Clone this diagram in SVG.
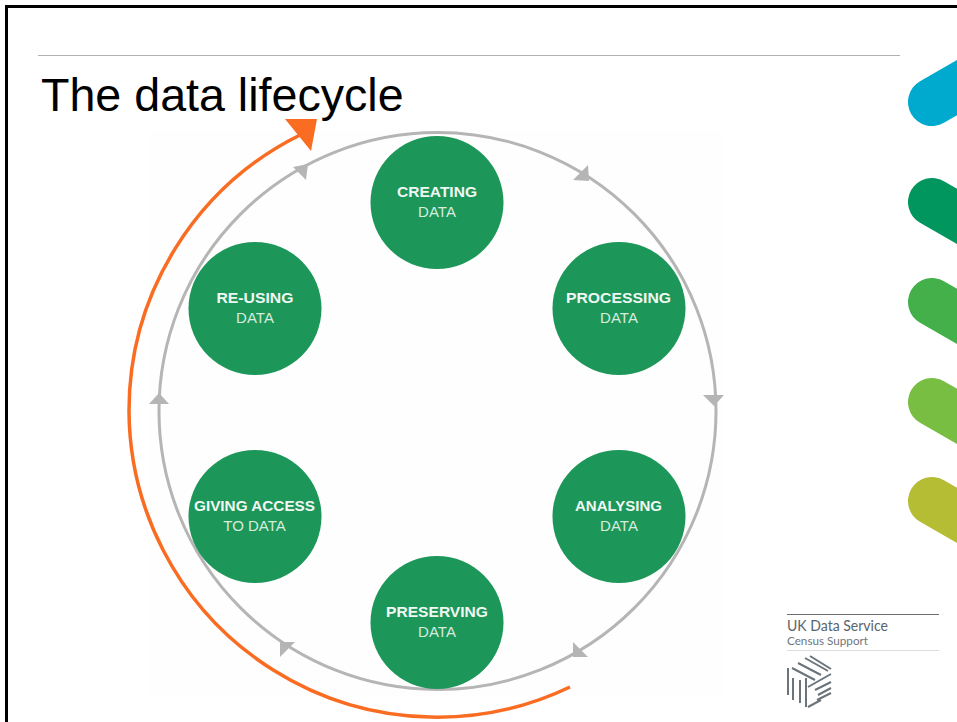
<svg xmlns="http://www.w3.org/2000/svg" width="957" height="722" viewBox="0 0 957 722">
<style>
.node{fill:#1d9659}
.t{font-family:"Liberation Sans",Arial,sans-serif;font-size:15.5px;text-anchor:middle}
.b{font-weight:bold;fill:#f0f8f3}
.l{fill:#d6ecdf;font-size:15px}
.h{fill:#b5b5b5}
.ls{fill:none;stroke-width:48;stroke-linecap:round}
.lg{fill:none;stroke:#6b747a;stroke-width:2}
</style>
<rect width="957" height="722" fill="#fff"/>
<path d="M6.500 722V6.500H957" fill="none" stroke="#000" stroke-width="3"/>
<line x1="38" y1="55.500" x2="900" y2="55.500" stroke="#aeb0b2" stroke-width="1"/>
<text x="41" y="110.500" font-family="'Liberation Sans',Arial,sans-serif" font-size="46.600" fill="#000">The data lifecycle</text>
<rect x="150" y="130" width="572" height="566" fill="#fdfefd"/>
<g id="side-shapes">
<line class="ls" x1="932" y1="102" x2="1000" y2="63" stroke="#00a9ce"/>
<line class="ls" x1="932" y1="202" x2="1000" y2="241" stroke="#00965e"/>
<line class="ls" x1="932" y1="302" x2="1000" y2="341" stroke="#43b04a"/>
<line class="ls" x1="932" y1="402" x2="1000" y2="441" stroke="#78be43"/>
<line class="ls" x1="932" y1="501" x2="1000" y2="540" stroke="#b5bd35"/>
</g>
<g id="connectors">
<circle cx="437.500" cy="411" r="278.500" fill="none" stroke="#b5b5b5" stroke-width="3"/>
<polygon class="h" points="588,165 589,181 573,180"/>
<polygon class="h" points="703,395 724,395 714,406"/>
<polygon class="h" points="573,642 573,657 588,657"/>
<polygon class="h" points="280,642 295,642 280,657"/>
<polygon class="h" points="149,404 169,404 159,393"/>
<polygon class="h" points="293,167 308,164 306,180"/>
<path d="M570 687A308 308 0 0 1 129 411A308 308 0 0 1 300 135" fill="none" stroke="#f96c22" stroke-width="3.500"/>
<polygon points="285,119 317,119 311,151" fill="#f96c22"/>
</g>
<g id="creating"><circle class="node" cx="437" cy="202.500" r="66.500"/><text class="t b" x="437" y="197" textLength="80" lengthAdjust="spacingAndGlyphs">CREATING</text><text class="t l" x="437" y="217">DATA</text></g>
<g id="processing"><circle class="node" cx="619" cy="308.500" r="66.500"/><text class="t b" x="618.500" y="303" textLength="105" lengthAdjust="spacingAndGlyphs">PROCESSING</text><text class="t l" x="619" y="323">DATA</text></g>
<g id="analysing"><circle class="node" cx="619" cy="516.500" r="66.500"/><text class="t b" x="618.500" y="510.500" textLength="87" lengthAdjust="spacingAndGlyphs">ANALYSING</text><text class="t l" x="619" y="530.500">DATA</text></g>
<g id="preserving"><circle class="node" cx="437" cy="622.500" r="66.500"/><text class="t b" x="437" y="616.500" textLength="102" lengthAdjust="spacingAndGlyphs">PRESERVING</text><text class="t l" x="437" y="636.500">DATA</text></g>
<g id="giving-access"><circle class="node" cx="255" cy="516.500" r="66.500"/><text class="t b" x="254.500" y="510.500" textLength="121" lengthAdjust="spacingAndGlyphs">GIVING ACCESS</text><text class="t l" x="254.500" y="530.500">TO DATA</text></g>
<g id="re-using"><circle class="node" cx="255" cy="308.500" r="66.500"/><text class="t b" x="255" y="303" textLength="77" lengthAdjust="spacingAndGlyphs">RE-USING</text><text class="t l" x="255" y="323">DATA</text></g>
<g id="logo">
<line x1="787" y1="614.500" x2="939" y2="614.500" stroke="#6a6f73" stroke-width="1"/>
<text x="787" y="631" font-family="Lato,sans-serif" font-size="15.500" textLength="101" lengthAdjust="spacingAndGlyphs" fill="#5a646b">UK Data Service</text>
<text x="787" y="645" font-family="Lato,sans-serif" font-size="11.500" textLength="81" lengthAdjust="spacingAndGlyphs" fill="#6f777d">Census Support</text>
<line x1="787" y1="650.500" x2="939" y2="650.500" stroke="#dddddd" stroke-width="1"/>
<path class="lg" d="M788 668V695M793 678V700M800 680V703M806 678V707M792 668L815 680M798 663L821 675M805 658L828 671M810 656L831 669M808 687L831 674M815 690L831 682M818 695L831 688M817 700L831 693M808 707L821 700"/>
</g>
</svg>
